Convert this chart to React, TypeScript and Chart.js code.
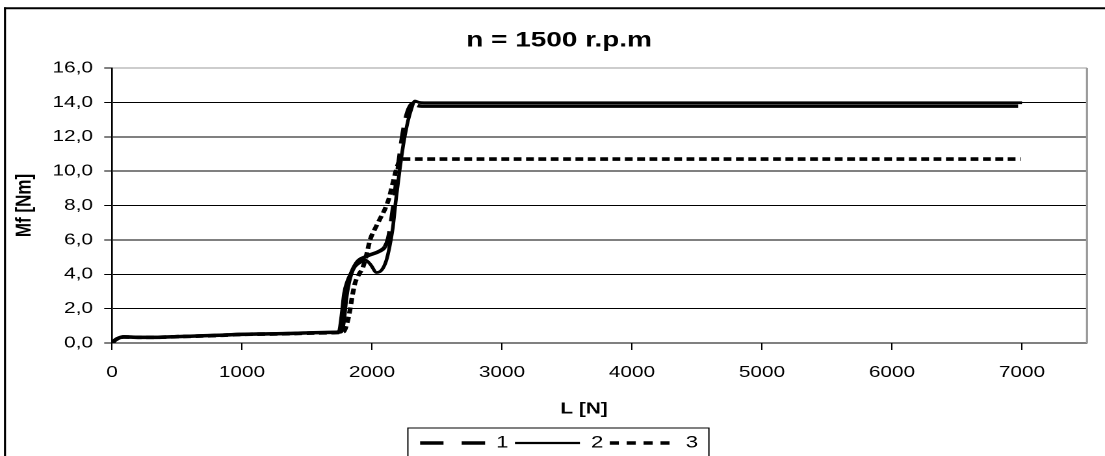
import React, { useEffect, useRef } from 'react';
import { Chart, registerables } from 'chart.js';

Chart.register(...registerables);

// ---------- data ----------
const chartTitle = 'n = 1500 r.p.m';
const yAxisTitle = 'Mf [Nm]';
const xAxisTitle = 'L [N]';
const seriesNames = ['1', '2', '3'];

const L1 = [0, 30, 90, 200, 350, 500, 700, 850, 1000, 1200, 1400, 1550, 1700, 1760, 1780, 1800, 1830, 1880, 1960, 2060, 2100, 2125, 2150, 2175, 2200, 2230, 2260, 2290, 2320, 2350, 2400, 6970];
const M1 = [0, 0.2, 0.35, 0.33, 0.33, 0.37, 0.42, 0.46, 0.5, 0.53, 0.56, 0.6, 0.62, 0.65, 1.2, 2.6, 3.8, 4.65, 5.05, 5.35, 5.6, 6.1, 7.2, 8.6, 10.2, 11.9, 13.1, 13.75, 13.95, 13.82, 13.78, 13.78];

const L2 = [0, 30, 90, 200, 350, 500, 700, 850, 1000, 1200, 1400, 1550, 1700, 1745, 1765, 1785, 1810, 1840, 1870, 1910, 1950, 1990, 2035, 2075, 2110, 2135, 2160, 2185, 2210, 2240, 2270, 2300, 2330, 2360, 2400, 7000];
const M2 = [0, 0.22, 0.38, 0.35, 0.34, 0.38, 0.43, 0.47, 0.52, 0.54, 0.57, 0.6, 0.63, 0.68, 1.6, 2.9, 3.6, 4.1, 4.45, 4.7, 4.82, 4.55, 4.1, 4.25, 4.8, 5.6, 6.7, 8.4, 9.9, 11.5, 12.7, 13.55, 14.08, 14.0, 13.98, 13.98];

const L3 = [0, 30, 90, 200, 350, 500, 700, 850, 1000, 1200, 1400, 1550, 1700, 1780, 1810, 1830, 1850, 1870, 1900, 1930, 1960, 1985, 2020, 2060, 2100, 2130, 2160, 2180, 2200, 2220, 2260, 6990];
const M3 = [0, 0.2, 0.35, 0.33, 0.33, 0.37, 0.41, 0.45, 0.5, 0.52, 0.55, 0.58, 0.6, 0.65, 1.2, 1.9, 2.8, 3.5, 4.0, 4.4, 5.2, 6.0, 6.6, 7.2, 7.8, 8.4, 9.3, 9.9, 10.4, 10.7, 10.7, 10.7];

const xTickValues = [0, 1000, 2000, 3000, 4000, 5000, 6000, 7000];
const xTickLabels = ['0', '1000', '2000', '3000', '4000', '5000', '6000', '7000'];
const yTickValues = [0, 2, 4, 6, 8, 10, 12, 14, 16];
const yTickLabels = ['0,0', '2,0', '4,0', '6,0', '8,0', '10,0', '12,0', '14,0', '16,0'];

// ---------- layout (internal canvas units, stretched horizontally) ----------
const STRETCH = 1.3;
const W = 850;
const H = 470;
const FONT = "'Liberation Sans', Arial, sans-serif";

const legendDashes = [[18, 14], [], [7, 6]];
const legendWidths = [3.6, 2.2, 3.6];

Chart.defaults.font.family = FONT;
Chart.defaults.color = '#000';

const framePlugin = {
  id: 'frame',
  beforeDraw(chart: any) {
    const { ctx } = chart;
    ctx.save();
    ctx.strokeStyle = '#000';
    ctx.lineWidth = 1.6;
    ctx.beginPath();
    ctx.moveTo(3.85, 7.3);
    ctx.lineTo(3.85, H);
    ctx.stroke();
    ctx.lineWidth = 2;
    ctx.beginPath();
    ctx.moveTo(3.05, 8.3);
    ctx.lineTo(W, 8.3);
    ctx.stroke();
    ctx.restore();
  },
  afterDraw(chart: any) {
    const { ctx, chartArea, legend } = chart;
    ctx.save();
    // plot area right border
    ctx.strokeStyle = '#9a9a9a';
    ctx.lineWidth = 1.6;
    ctx.beginPath();
    ctx.moveTo(chartArea.right, chartArea.top);
    ctx.lineTo(chartArea.right, chartArea.bottom);
    ctx.stroke();
    // legend frame
    const boxes = legend && legend.legendHitBoxes;
    if (boxes && boxes.length) {
      const first = boxes[0];
      const last = boxes[boxes.length - 1];
      const left = first.left - 9.4;
      const right = last.left + last.width + 8.3;
      ctx.strokeStyle = '#000';
      ctx.lineWidth = 1;
      ctx.strokeRect(left, 428, right - left, 60);
    }
    // x axis title
    ctx.fillStyle = '#000';
    ctx.font = `bold 16px ${FONT}`;
    ctx.textAlign = 'center';
    ctx.textBaseline = 'middle';
    ctx.fillText(xAxisTitle, 584 / STRETCH, 409);
    ctx.restore();
  },
};

export default function App() {
  const canvasRef = useRef<HTMLCanvasElement | null>(null);

  useEffect(() => {
    if (!canvasRef.current) return;
    const toPoints = (xs: number[], ys: number[]) => xs.map((x, i) => ({ x, y: ys[i] }));
    const chart = new Chart(canvasRef.current, {
      type: 'line',
      data: {
        datasets: [
          {
            label: seriesNames[0],
            data: toPoints(L1, M1),
            borderColor: '#000',
            backgroundColor: '#000',
            borderWidth: 3.5,
            borderDash: [16, 10],
            pointRadius: 0,
            fill: false,
            cubicInterpolationMode: 'monotone',
            segment: {
              borderDash: (c: any) =>
                L1[c.p0DataIndex] >= 2100 && L1[c.p1DataIndex] <= 2350 ? [16, 10] : [],
            },
          },
          {
            label: seriesNames[1],
            data: toPoints(L2, M2),
            borderColor: '#000',
            backgroundColor: '#000',
            borderWidth: 2.8,
            pointRadius: 0,
            fill: false,
            cubicInterpolationMode: 'monotone',
          },
          {
            label: seriesNames[2],
            data: toPoints(L3, M3),
            borderColor: '#000',
            backgroundColor: '#000',
            borderWidth: 3.6,
            borderDash: [6, 3.5],
            pointRadius: 0,
            fill: false,
            cubicInterpolationMode: 'monotone',
          },
        ] as any,
      },
      options: {
        animation: false,
        responsive: false,
        devicePixelRatio: 2,
        layout: { padding: { left: 24, right: W - 1087 / STRETCH, top: 0, bottom: 8.5 } },
        plugins: {
          title: {
            display: true,
            text: chartTitle,
            color: '#000',
            font: { size: 21.5, weight: 'bold', family: FONT },
            padding: { top: 27.6, bottom: 14.6 },
          },
          legend: {
            display: true,
            position: 'bottom',
            labels: {
              usePointStyle: true,
              pointStyle: 'line',
              pointStyleWidth: 50,
              padding: 5,
              color: '#000',
              font: { size: 17, family: FONT },
              generateLabels: (ch: any) =>
                (Chart.defaults.plugins.legend.labels.generateLabels as any)(ch).map((item: any, i: number) => ({
                  ...item,
                  lineDash: legendDashes[i],
                  lineWidth: legendWidths[i],
                  strokeStyle: '#000',
                  fillStyle: '#000',
                  pointStyle: 'line',
                })),
            },
          },
          tooltip: { enabled: false },
        },
        scales: {
          x: {
            type: 'linear',
            min: 0,
            max: 7500,
            afterBuildTicks: (scale: any) => {
              scale.ticks = xTickValues.map((value) => ({ value }));
            },
            ticks: {
              autoSkip: false,
              maxRotation: 0,
              minRotation: 0,
              padding: 13.1,
              color: '#000',
              font: { size: 16, family: FONT },
              callback: (v: any) => xTickLabels[xTickValues.indexOf(Number(v))] ?? '',
            },
            grid: {
              drawOnChartArea: false,
              drawTicks: true,
              tickLength: 7,
              tickColor: '#000',
              color: '#000',
            },
            border: { display: true, color: '#000', width: 1 },
            afterFit: (scale: any) => {
              scale.height = 86.5;
            },
          },
          y: {
            type: 'linear',
            min: 0,
            max: 16,
            afterBuildTicks: (scale: any) => {
              scale.ticks = yTickValues.map((value) => ({ value }));
            },
            ticks: {
              autoSkip: false,
              padding: 8.6,
              color: '#000',
              font: { size: 16, family: FONT },
              callback: (v: any) => yTickLabels[yTickValues.indexOf(Number(v))] ?? '',
            },
            grid: {
              color: (c: any) => (c.tick && c.tick.value === 16 ? '#9a9a9a' : '#000'),
              lineWidth: 1,
              drawTicks: true,
              tickLength: 6,
              tickColor: '#000',
            },
            border: { display: true, color: '#000', width: 1.3 },
            title: {
              display: true,
              text: yAxisTitle,
              color: '#000',
              font: { size: 17, weight: 'bold', family: FONT },
              padding: { top: -15.4, bottom: 0 },
            },
            afterFit: (scale: any) => {
              scale.width = 112 / STRETCH - 24;
            },
          },
        },
      } as any,
      plugins: [framePlugin],
    });
    return () => chart.destroy();
  }, []);

  return (
    <div
      style={{
        position: 'absolute',
        left: 0,
        top: 0,
        width: 1105,
        height: 456,
        overflow: 'hidden',
        background: '#fff',
      }}
    >
      <canvas
        ref={canvasRef}
        width={W}
        height={H}
        style={{
          display: 'block',
          width: W,
          height: H,
          transform: `scaleX(${STRETCH})`,
          transformOrigin: '0 0',
        }}
      />
    </div>
  );
}
